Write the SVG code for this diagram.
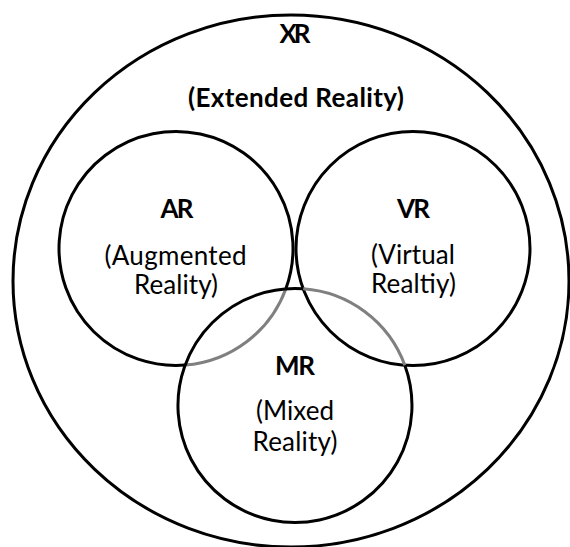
<svg xmlns="http://www.w3.org/2000/svg" width="570" height="547" viewBox="0 0 570 547">
  <style>
    .ring { fill: none; stroke: #000; stroke-width: 3; }
    .gray { fill: none; stroke: #808080; stroke-width: 3; }
    text { font-family: Lato, "Open Sans", "Liberation Sans", sans-serif; font-size: 26px; fill: #000; text-anchor: middle; }
    .b { font-weight: bold; }
  </style>
  <rect width="570" height="547" fill="#fff"/>
  <g id="xr">
    <ellipse class="ring" cx="291" cy="281" rx="278" ry="266"/>
    <text class="b" x="295" y="43" textLength="31">XR</text>
    <text class="b" x="296" y="107" textLength="216">(Extended Reality)</text>
  </g>
  <g id="ar">
    <path class="ring" d="M285.8,288.9 A117,117 0 1 0 185.2,365.1"/>
    <path class="gray" d="M185.2,365.1 A117,117 0 0 0 285.8,288.9"/>
    <text class="b" x="177" y="218" textLength="33">AR</text>
    <text x="175.5" y="265" textLength="142">(Augmented</text>
    <text x="176" y="294" textLength="84">Reality)</text>
  </g>
  <g id="vr">
    <circle class="ring" cx="413" cy="248.5" r="117"/>
    <text class="b" x="413.5" y="218" textLength="33">VR</text>
    <text x="413" y="264" textLength="84">(Virtual</text>
    <text x="413.5" y="293" textLength="85">Realtiy)</text>
  </g>
  <g id="mr">
    <path class="ring" d="M404.8,365.2 A117,117 0 1 1 303.2,288.8"/>
    <path class="gray" d="M303.2,288.8 A117,117 0 0 1 404.8,365.2"/>
    <text class="b" x="295" y="375" textLength="40">MR</text>
    <text x="295" y="420" textLength="78">(Mixed</text>
    <text x="295" y="451" textLength="85">Reality)</text>
  </g>
  <g id="connectors"/>
</svg>
